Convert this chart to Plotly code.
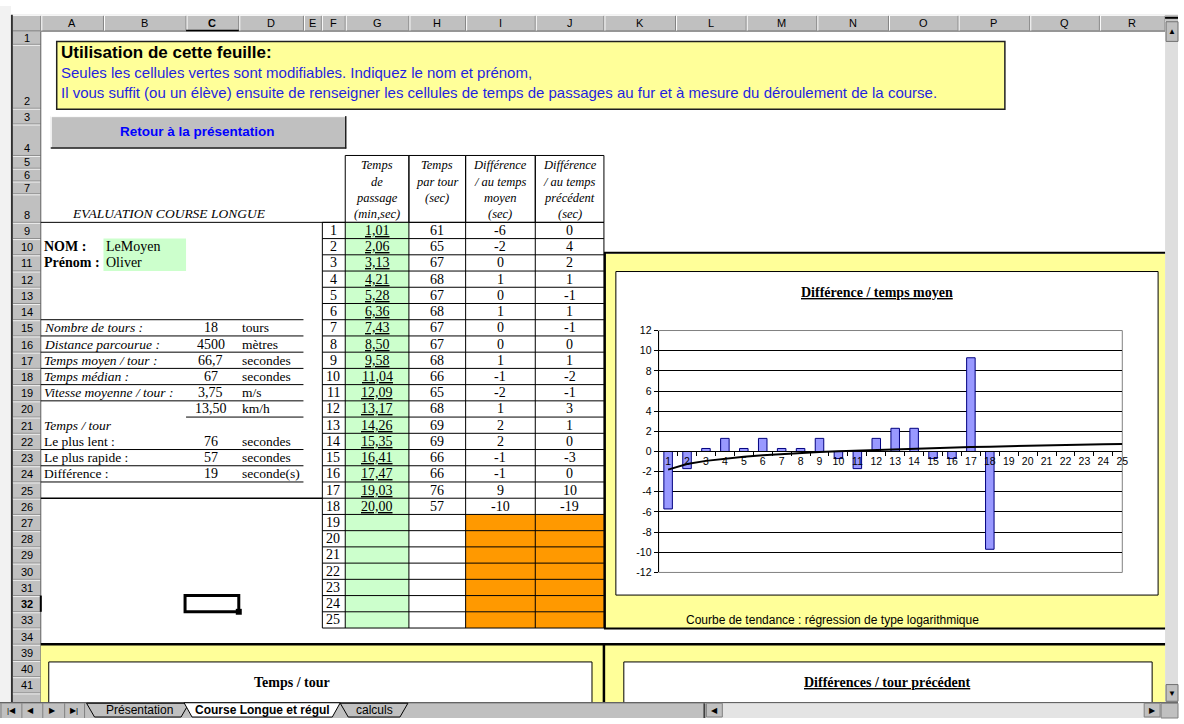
import plotly.graph_objects as go

colonnes = ["A", "B", "C", "D", "E", "F", "G", "H", "I", "J",
            "K", "L", "M", "N", "O", "P", "Q", "R"]
tours = ["1", "2", "3", "4", "5", "6", "7", "8", "9", "10", "11", "12", "13",
         "14", "15", "16", "17", "18", "19", "20", "21", "22", "23", "24", "25"]
temps_passage = ["1,01", "2,06", "3,13", "4,21", "5,28", "6,36", "7,43", "8,50", "9,58",
                 "11,04", "12,09", "13,17", "14,26", "15,35", "16,41", "17,47", "19,03", "20,00"]
temps_par_tour = [61, 65, 67, 68, 67, 68, 67, 67, 68, 66, 65, 68, 69, 69, 66, 66, 76, 57]
diff_temps_moyen = [-6, -2, 0, 1, 0, 1, 0, 0, 1, -1, -2, 1, 2, 2, -1, -1, 9, -10]
diff_temps_precedent = [0, 4, 2, 1, -1, 1, -1, 0, 1, -2, -1, 3, 1, 0, -3, 0, 10, -19]
ecart_graphe = [-5.7, -1.7, 0.3, 1.3, 0.3, 1.3, 0.3, 0.3, 1.3, -0.7, -1.7, 1.3, 2.3, 2.3,
                -0.7, -0.7, 9.3, -9.7]
tendance_log = [-1.8, -1.25, -0.93, -0.7, -0.53, -0.38, -0.26, -0.16, -0.06, 0.02, 0.09,
                0.16, 0.23, 0.28, 0.34, 0.39, 0.44, 0.48, 0.53, 0.57, 0.61, 0.64, 0.68,
                0.71, 0.74]
y_ticks = [-12, -10, -8, -6, -4, -2, 0, 2, 4, 6, 8, 10, 12]
y_ticktext = ["-12", "-10", "-8", "-6", "-4", "-2", "0", "2", "4", "6", "8", "10", "12"]
stat_libelles = ["Nombre de tours :", "Distance parcourue :", "Temps moyen / tour :",
                 "Temps médian :", "Vitesse moyenne / tour :", "", "Temps / tour",
                 "Le plus lent :", "Le plus rapide :", "Différence :"]
stat_valeurs = ["18", "4500", "66,7", "67", "3,75", "13,50", "", "76", "57", "19"]
stat_unites = ["tours", "mètres", "secondes", "secondes", "m/s", "km/h", "",
               "secondes", "secondes", "seconde(s)"]
nom = "LeMoyen"
prenom = "Oliver"
entetes_tableau = [["Temps", "de", "passage", "(min,sec)"],
                   ["Temps", "par tour", "(sec)"],
                   ["Différence", "/ au temps", "moyen", "(sec)"],
                   ["Différence", "/ au temps", "précédent", "(sec)"]]
onglets = ["Présentation", "Course Longue et régul", "calculs"]

# ---------------- géométrie ----------------
W, H = 1184, 724
SANS = "Arial, 'Liberation Sans', sans-serif"
SERIF = "'Times New Roman', 'Liberation Serif', serif"


def X(p):
    return p / W


def Y(p):
    return 1 - p / H


shapes = []
ann = []


def rect(x0, y0, x1, y1, fill=None, line=None, lw=1):
    shapes.append(dict(type="rect", xref="paper", yref="paper", layer="below",
                       x0=X(x0), x1=X(x1), y0=Y(y1), y1=Y(y0),
                       fillcolor=fill if fill else "rgba(0,0,0,0)",
                       line=dict(color=line if line else "rgba(0,0,0,0)",
                                 width=lw if line else 0)))


def seg(x0, y0, x1, y1, color="black", lw=1):
    shapes.append(dict(type="line", xref="paper", yref="paper", layer="below",
                       x0=X(x0), x1=X(x1), y0=Y(y0), y1=Y(y1),
                       line=dict(color=color, width=lw)))


def poly(pts, fill, line="black", lw=1):
    d = "M " + " L ".join(f"{X(x):.5f},{Y(y):.5f}" for x, y in pts) + " Z"
    shapes.append(dict(type="path", xref="paper", yref="paper", layer="below",
                       path=d, fillcolor=fill, line=dict(color=line, width=lw)))


def txt(x, y, s, size=11, color="black", family=SANS, align="center"):
    ann.append(dict(x=X(x), y=Y(y), xref="paper", yref="paper", text=s,
                    showarrow=False, xanchor=align, yanchor="middle",
                    borderpad=0, font=dict(size=size, color=color, family=family)))


col_edges = [41, 104, 187, 240, 305, 323, 347, 411, 468, 538, 607, 679, 750, 821,
             893, 963, 1035, 1105, 1171]
rows = [(1, 26, 39), (2, 39, 104), (3, 104, 120), (4, 120, 152), (5, 152, 165),
        (6, 165, 178), (7, 178, 191), (8, 191, 220)]
for r in range(9, 34):
    rows.append((r, 220 + (r - 9) * 16.5, 220 + (r - 8) * 16.5))
rows += [(34, 632.5, 649), (39, 649, 665.5), (40, 665.5, 682), (41, 682, 698.5)]
rowb = {r: (t, b) for r, t, b in rows}


def rc(r):
    t, b = rowb[r]
    return (t + b) / 2


# ---------------- cadre Excel ----------------
rect(0, 0, 11, 708, fill="#f2f2f2")
seg(12, 9, 12, 708, "#303030", 2)
# en-têtes de colonnes
rect(13, 9, 1171, 26, fill="#c0c0c0")
seg(13, 9.5, 1171, 9.5, "white")
seg(13, 25.5, 1171, 25.5, "#606060")
for e in col_edges:
    seg(e, 10, e, 25, "#808080")
    seg(e + 1, 10, e + 1, 25, "white")
for i, c in enumerate(colonnes):
    cx = (col_edges[i] + col_edges[i + 1]) / 2
    txt(cx, 17.5, "<b>C</b>" if c == "C" else c, 11)
seg(187, 25, 240, 25, "#000000", 1.5)
# en-têtes de lignes
rect(13, 26, 41, 708, fill="#c0c0c0")
for r, t, b in rows:
    seg(13, b, 41, b, "#8a8a8a")
    seg(13, b + 1, 41, b + 1, "#f0f0f0")
    ly = b - 8 if (b - t) > 20 else (t + b) / 2
    txt(27, ly + 0.5, f"<b>{r}</b>" if r == 32 else str(r), 11)
seg(41, 26, 41, 708, "#606060")
seg(41, rowb[32][0], 41, rowb[32][1], "black", 2)

# barre de défilement verticale
rect(1171, 9, 1184, 708, fill="#dedede")
rect(1171, 9, 1184, 15, fill="#c0c0c0")
seg(1171, 12, 1184, 12, "black", 2)
rect(1172, 16, 1184, 36, fill="#c0c0c0", line="#707070")
txt(1178, 26, "▲", 8)
rect(1172, 690, 1184, 707, fill="#c0c0c0", line="#707070")
txt(1178, 699, "▼", 8)

# ---------------- zone d'information ----------------
rect(57, 36, 1010, 105, fill="#ffff99", line="#202020", lw=1.5)
txt(60, 47, "<b>Utilisation de cette feuille:</b>", 17, align="left")
txt(60, 68, "Seules les cellules vertes sont modifiables. Indiquez le nom et prénom,",
    15, color="#1f1fe0", align="left")
txt(60, 88, "Il vous suffit (ou un élève) ensuite de renseigner les cellules de temps de "
            "passages au fur et à mesure du déroulement de la course.",
    15, color="#1f1fe0", align="left")

# bouton
rect(51, 112, 347, 145, fill="#c0c0c0")
seg(51, 112.5, 347, 112.5, "white")
seg(51.5, 112, 51.5, 145, "white")
seg(51, 144.5, 348, 144.5, "#202020", 1.5)
seg(347.5, 112, 347.5, 145, "#202020", 1.5)
txt(199, 128, "<b>Retour à la présentation</b>", 13.5, color="#0000ff")

# ---------------- partie gauche ----------------
txt(170, 211, "<i>EVALUATION COURSE LONGUE</i>", 13.5, family=SERIF)
seg(41, 220, 347, 220, "black", 1)
rect(104, rowb[10][0], 187, rowb[11][1], fill="#ccffcc")
txt(43, rc(10), "<b>NOM :</b>", 14, family=SERIF, align="left")
txt(106, rc(10), nom, 14, family=SERIF, align="left")
txt(43, rc(11), "<b>Prénom :</b>", 14, family=SERIF, align="left")
txt(106, rc(11), prenom, 14, family=SERIF, align="left")

seg(41, rowb[15][0], 305, rowb[15][0], "black", 1)
for k, (lab, val, uni) in enumerate(zip(stat_libelles, stat_valeurs, stat_unites)):
    r = 15 + k
    if lab:
        s = f"<i>{lab}</i>" if k < 7 else lab
        txt(43, rc(r), s, 13.5, family=SERIF, align="left")
    if val:
        txt(212, rc(r), val, 14, family=SERIF)
    if uni:
        txt(242, rc(r), uni, 13.5, family=SERIF, align="left")
    b = rowb[r][1]
    if k < 5 or k >= 7:
        seg(41, b, 305, b, "black", 1)
    elif k == 5:
        seg(187, b, 305, b, "black", 1)
seg(41, rowb[25][1], 324, rowb[25][1], "black", 1.5)

# cellule active C32
rect(186, rowb[32][0], 240, rowb[32][1], line="black", lw=3)
rect(237, 613, 243, 619, fill="black")

# ---------------- tableau ----------------
tab_cols = [324, 347, 411, 468, 538, 607]
for j, lines in enumerate(entetes_tableau):
    x0, x1 = tab_cols[j + 1], tab_cols[j + 2]
    rect(x0, 152, x1, 220, line="black")
    for k, s in enumerate(lines):
        txt((x0 + x1) / 2, 162 + k * 16.6, f"<i>{s}</i>", 12.5, family=SERIF)

n_lignes = len(tours)
for i in range(n_lignes):
    t, b = rowb[9 + i]
    rect(347, t, 411, b, fill="#ccffcc")
    if i >= len(temps_passage):
        rect(468, t, 607, b, fill="#ff9900")
ytab_top, ytab_bot = rowb[9][0], rowb[33][1]
for i in range(n_lignes + 1):
    yy = ytab_top + i * 16.5
    seg(324, yy, 607, yy, "black", 1)
for xx in tab_cols:
    seg(xx, ytab_top, xx, ytab_bot, "black", 1)

for i, t in enumerate(tours):
    yc = rc(9 + i)
    txt(335, yc, t, 14, family=SERIF)
for i in range(len(temps_passage)):
    yc = rc(9 + i)
    txt(379, yc, f"<u>{temps_passage[i]}</u>", 14, family=SERIF)
    txt(439.5, yc, str(temps_par_tour[i]), 14, family=SERIF)
    txt(503, yc, str(diff_temps_moyen[i]), 14, family=SERIF)
    txt(572.5, yc, str(diff_temps_precedent[i]), 14, family=SERIF)

# ---------------- panneau jaune du graphique ----------------
rect(608, 252, 1171, 632.5, fill="#ffff99")
seg(607, 251, 1171, 251, "black", 2)
seg(608, 251, 608, 633, "black", 2)
seg(607, 633, 1171, 633, "black", 2)
rect(619, 270, 1164, 599, fill="white", line="black", lw=1)
txt(837, 624, "Courbe de tendance : régression de type logarithmique", 12)

# ---------------- bas de feuille ----------------
rect(41, 649, 1171, 708, fill="#ffff99")
seg(41, 649, 1171, 649, "black", 2.5)
seg(607, 649, 607, 708, "black", 2.5)
rect(49, 667, 595, 712, fill="white", line="black")
rect(627, 667, 1158, 712, fill="white", line="black")
txt(293, 688, "<b>Temps / tour</b>", 14, family=SERIF)
txt(892, 688, "<b><u>Différences / tour précédent</u></b>", 14, family=SERIF)

# ---------------- barre d'onglets ----------------
rect(0, 708, 1184, 724, fill="#c0c0c0")
seg(0, 708.5, 1184, 708.5, "#404040", 1)
for xb in [0, 21, 42, 64, 84]:
    seg(xb + 1, 709, xb + 1, 724, "#808080")
txt(12, 716, "|◀", 8)
txt(31, 716, "◀", 8)
txt(53, 716, "▶", 8)
txt(74, 716, "▶|", 8)
poly([(87, 709), (95, 723), (182, 723), (190, 709)], "#c0c0c0")
poly([(342, 709), (350, 723), (402, 723), (410, 709)], "#c0c0c0")
poly([(185, 708.5), (193, 723), (334, 723), (342, 708.5)], "white")
txt(140, 716, onglets[0], 12)
txt(264, 716, f"<b>{onglets[1]}</b>", 12)
txt(376, 716, onglets[2], 12)
# barre horizontale
rect(708, 709, 1167, 724, fill="#e4e4e4")
seg(708, 709, 708, 724, "#404040", 2)
rect(710, 709, 726, 723, fill="#c0c0c0", line="#808080")
txt(718, 716, "◀", 8)
rect(1150, 709, 1166, 723, fill="#c0c0c0", line="#808080")
txt(1158, 716, "▶", 8)
rect(1167, 709, 1184, 724, fill="#c0c0c0", line="#808080")

# ---------------- graphique ----------------
fig = go.Figure()
fig.add_trace(go.Bar(
    x=tours[:len(ecart_graphe)], y=ecart_graphe, width=0.45,
    marker=dict(color="#9999ff", line=dict(color="#000080", width=1)),
    hoverinfo="skip"))
fig.add_trace(go.Scatter(
    x=tours, y=tendance_log, mode="lines",
    line=dict(color="black", width=2), hoverinfo="skip"))

shapes.append(dict(type="rect", xref="x domain", yref="y domain", layer="below",
                   x0=0, x1=1, y0=0, y1=1, line=dict(color="#808080", width=1),
                   fillcolor="rgba(0,0,0,0)"))
ann.append(dict(x=X(881), y=Y(291), xref="paper", yref="paper",
                text="<b><u>Différence / temps moyen</u></b>", showarrow=False,
                xanchor="center", yanchor="middle",
                font=dict(size=14, family=SERIF, color="black")))

y_dom = [Y(576), Y(330)]
fig.update_layout(
    width=W, height=H, margin=dict(l=0, r=0, t=0, b=0),
    paper_bgcolor="white", plot_bgcolor="rgba(0,0,0,0)", showlegend=False,
    xaxis=dict(domain=[X(662), X(1128)], type="category",
               categoryorder="array", categoryarray=tours,
               anchor="free", position=(y_dom[0] + y_dom[1]) / 2,
               showline=True, linecolor="black", linewidth=1, tickangle=0,
               ticks="outside", ticklen=4, tickcolor="black", tickson="boundaries",
               showgrid=False, zeroline=False,
               tickfont=dict(family=SANS, size=10.5, color="black"), fixedrange=True),
    yaxis=dict(domain=y_dom, range=[-12, 12], tickvals=y_ticks, ticktext=y_ticktext,
               anchor="x",
               showgrid=True, gridcolor="black", gridwidth=1,
               zeroline=True, zerolinecolor="black", zerolinewidth=1,
               showline=True, linecolor="black", linewidth=1,
               ticks="outside", ticklen=4, tickcolor="black",
               tickfont=dict(family=SANS, size=10.5, color="black"), fixedrange=True),
    shapes=shapes, annotations=ann,
)

fig.write_html("out.html",
               config={"displayModeBar": False},
               post_script="document.body.style.margin='0';"
                           "document.body.style.overflow='hidden';")
